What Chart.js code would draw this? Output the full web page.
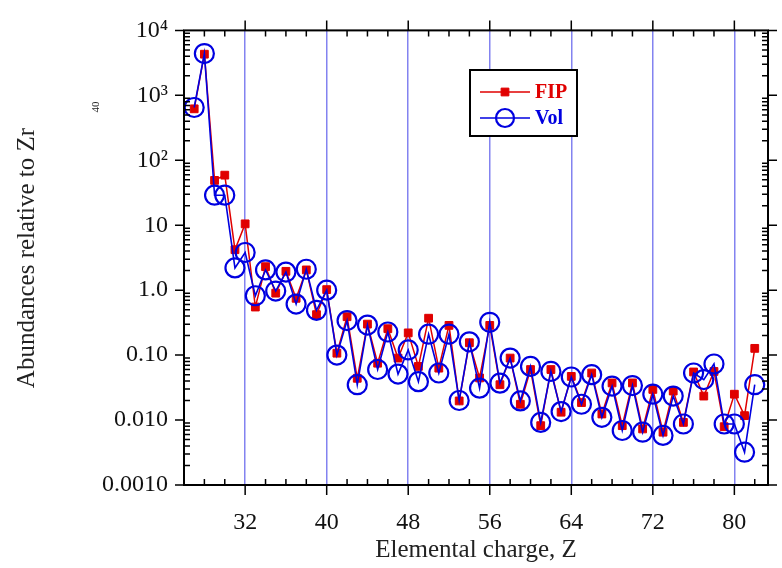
<!DOCTYPE html>
<html>
<head>
<meta charset="utf-8">
<script src="https://cdn.jsdelivr.net/npm/chart.js@4/dist/chart.umd.min.js"></script>
<style>
  html, body { margin: 0; padding: 0; background: #fff; }
  #wrap { width: 782px; height: 568px; }
</style>
</head>
<body>
<div id="wrap"><canvas id="chart" width="782" height="568"></canvas></div>
<script>
// elemental charge Z
const charges = [27, 28, 29, 30, 31, 32, 33, 34, 35, 36, 37, 38, 39, 40, 41, 42, 43, 44, 45, 46,
    47, 48, 49, 50, 51, 52, 53, 54, 55, 56, 57, 58, 59, 60, 61, 62, 63, 64, 65, 66,
    67, 68, 69, 70, 71, 72, 73, 74, 75, 76, 77, 78, 79, 80, 81, 82];

const fipValues = [620, 4300, 49, 59, 4.2, 10.5, 0.55, 2.3, 0.9, 1.95, 0.75, 2.05, 0.42, 1.02, 0.107, 0.39, 0.044, 0.30, 0.075, 0.255,
    0.09, 0.22, 0.067, 0.37, 0.063, 0.287, 0.0197, 0.155, 0.0445, 0.287, 0.035, 0.09, 0.0175, 0.06, 0.0082, 0.06, 0.0132, 0.047, 0.0186, 0.053,
    0.0124, 0.0373, 0.0082, 0.0373, 0.0073, 0.0296, 0.0065, 0.028, 0.0092, 0.055, 0.0234, 0.056, 0.0079, 0.025, 0.0117, 0.127];

const volValues = [650, 4400, 29, 29, 2.2, 3.8, 0.82, 2.05, 0.97, 1.9, 0.61, 2.1, 0.49, 1.0, 0.10, 0.34, 0.035, 0.29, 0.060, 0.227,
    0.051, 0.12, 0.039, 0.21, 0.053, 0.21, 0.020, 0.16, 0.031, 0.32, 0.037, 0.09, 0.0197, 0.067, 0.0092, 0.056, 0.0135, 0.046, 0.0175, 0.050,
    0.011, 0.0333, 0.0069, 0.034, 0.0065, 0.025, 0.0058, 0.0234, 0.0087, 0.053, 0.042, 0.073, 0.0087, 0.0087, 0.0032, 0.035];

const xTicks = [32, 40, 48, 56, 64, 72, 80];
const xMinorTicks = [28, 30, 34, 36, 38, 42, 44, 46, 50, 52, 54, 58, 60, 62, 66, 68, 70, 74, 76, 78, 82];
const yTicks = [0.001, 0.01, 0.1, 1, 10, 100, 1000, 10000];
const yTickLabels = ['0.0010', '0.010', '0.10', '1.0', '10', '10²', '10³', '10⁴'];

const serif = 'Liberation Serif';

function yLabel(v) {
    for (let i = 0; i < yTicks.length; i++) {
        if (Math.abs(Math.log10(v) - Math.log10(yTicks[i])) < 1e-6) return yTickLabels[i];
    }
    return '';
}

// box with ticks on all four sides, majors out, minors in
const framePlugin = {
    id: 'frame',
    afterDatasetsDraw(chart) {
        const ctx = chart.ctx;
        const a = chart.chartArea;
        const xs = chart.scales.x, ys = chart.scales.y;
        ctx.save();
        ctx.strokeStyle = '#000';
        ctx.lineWidth = 2;
        ctx.strokeRect(a.left, a.top, a.right - a.left, a.bottom - a.top);
        ctx.lineWidth = 1.5;
        ctx.beginPath();
        xTicks.forEach(v => {
            const px = xs.getPixelForValue(v);
            ctx.moveTo(px, a.bottom); ctx.lineTo(px, a.bottom + 10);
            ctx.moveTo(px, a.top); ctx.lineTo(px, a.top - 10);
        });
        xMinorTicks.forEach(v => {
            const px = xs.getPixelForValue(v);
            ctx.moveTo(px, a.bottom); ctx.lineTo(px, a.bottom - 6);
            ctx.moveTo(px, a.top); ctx.lineTo(px, a.top + 6);
        });
        yTicks.forEach(v => {
            const py = ys.getPixelForValue(v);
            ctx.moveTo(a.left, py); ctx.lineTo(a.left - 9, py);
            ctx.moveTo(a.right, py); ctx.lineTo(a.right + 9, py);
            if (v < 10000) {
                for (let m = 2; m < 10; m++) {
                    const pm = ys.getPixelForValue(v * m);
                    ctx.moveTo(a.left, pm); ctx.lineTo(a.left + 6, pm);
                    ctx.moveTo(a.right, pm); ctx.lineTo(a.right - 6, pm);
                }
            }
        });
        ctx.stroke();
        ctx.restore();
    },
    afterDraw(chart) {
        const ctx = chart.ctx;
        ctx.save();
        // y axis title
        ctx.translate(27, 258);
        ctx.rotate(-Math.PI / 2);
        ctx.fillStyle = '#222';
        ctx.font = '25px "' + serif + '"';
        ctx.textAlign = 'center';
        ctx.textBaseline = 'middle';
        ctx.fillText('Abundances relative to Zr', 0, 0);
        ctx.restore();

        ctx.save();
        ctx.translate(96, 107);
        ctx.rotate(-Math.PI / 2);
        ctx.fillStyle = '#222';
        ctx.font = '11px "' + serif + '"';
        ctx.textAlign = 'center';
        ctx.textBaseline = 'middle';
        ctx.fillText('40', 0, 0);
        ctx.restore();

        // legend box
        const ds = chart.data.datasets;
        ctx.save();
        ctx.fillStyle = '#fff';
        ctx.fillRect(470, 70, 107, 66);
        ctx.strokeStyle = '#000';
        ctx.lineWidth = 2;
        ctx.strokeRect(470, 70, 107, 66);
        const rows = [
            { d: ds[1], y: 92 },
            { d: ds[0], y: 118 }
        ];
        rows.forEach(r => {
            ctx.strokeStyle = r.d.borderColor;
            ctx.lineWidth = r.d.borderWidth;
            ctx.beginPath();
            ctx.moveTo(480, r.y); ctx.lineTo(530, r.y);
            ctx.stroke();
            ctx.fillStyle = r.d.pointBackgroundColor;
            ctx.strokeStyle = r.d.pointBorderColor;
            ctx.lineWidth = r.d.pointBorderWidth;
            Chart.helpers.drawPoint(ctx, {
                pointStyle: r.d.pointStyle,
                radius: r.d.pointStyle === 'rect' ? 5.5 : 9,
                borderWidth: r.d.pointBorderWidth,
                rotation: 0
            }, 505, r.y);
            ctx.fillStyle = r.d.borderColor;
            ctx.font = 'bold 20px "' + serif + '"';
            ctx.textAlign = 'left';
            ctx.textBaseline = 'middle';
            ctx.fillText(r.d.label, 535, r.y + 1);
        });
        ctx.restore();
    }
};

const fipData = charges.map((z, i) => ({ x: z, y: fipValues[i] }));
const volData = charges.map((z, i) => ({ x: z, y: volValues[i] }));

const config = {
    type: 'line',
    data: {
        datasets: [{
            label: 'Vol',
            data: volData,
            borderColor: '#0000e0',
            borderWidth: 1.6,
            pointStyle: 'circle',
            pointRadius: 9.5,
            pointBorderWidth: 2.2,
            pointBorderColor: '#0000e0',
            pointBackgroundColor: 'rgba(0,0,0,0)',
            tension: 0
        }, {
            label: 'FIP',
            data: fipData,
            borderColor: '#e00000',
            borderWidth: 1.5,
            pointStyle: 'rect',
            pointRadius: 5.5,
            pointBorderWidth: 1,
            pointBorderColor: '#e00000',
            pointBackgroundColor: '#e00000',
            tension: 0
        }]
    },
    options: {
        responsive: false,
        animation: false,
        layout: { padding: { top: 24, right: 14, left: 0, bottom: 0 } },
        plugins: {
            legend: { display: false },
            tooltip: { enabled: false }
        },
        scales: {
            x: {
                type: 'linear',
                min: 26,
                max: 83.3,
                afterBuildTicks: s => { s.ticks = xTicks.map(v => ({ value: v })); },
                afterFit: s => { s.height = 83; },
                grid: { color: 'rgba(90,90,235,0.75)', lineWidth: 1.5, drawTicks: false },
                border: { display: false },
                ticks: {
                    padding: 23,
                    color: '#111',
                    autoSkip: false,
                    maxRotation: 0,
                    font: { family: serif, size: 24 }
                },
                title: {
                    display: true,
                    text: 'Elemental charge, Z',
                    color: '#222',
                    font: { family: serif, size: 25 },
                    padding: { top: 0, bottom: 3 }
                }
            },
            y: {
                type: 'logarithmic',
                min: 0.001,
                max: 10000,
                afterBuildTicks: s => { s.ticks = yTicks.map(v => ({ value: v })); },
                afterFit: s => { s.width = 184; },
                grid: { display: false, drawTicks: false },
                border: { display: false },
                ticks: {
                    padding: 16,
                    color: '#111',
                    font: { family: serif, size: 24 },
                    callback: v => yLabel(v)
                }
            }
        }
    },
    plugins: [framePlugin]
};

new Chart(document.getElementById('chart').getContext('2d'), config);
</script>
</body>
</html>
